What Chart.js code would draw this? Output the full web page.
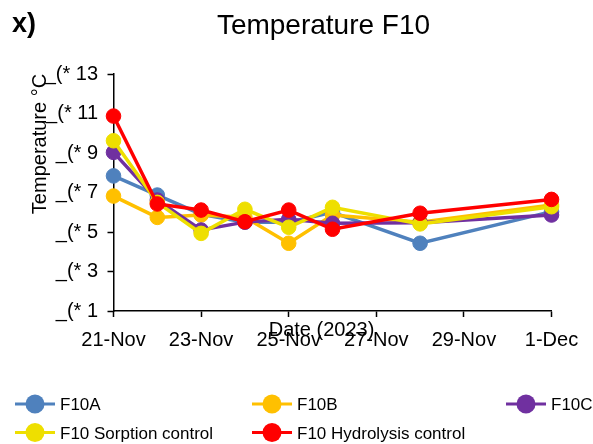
<!DOCTYPE html>
<html>
<head>
<meta charset="utf-8">
<script src="https://cdn.jsdelivr.net/npm/chart.js@4.4.1/dist/chart.umd.min.js"></script>
<style>
  html, body { margin: 0; padding: 0; background: #fff; }
  #wrap { position: relative; width: 593px; height: 444px; }
  canvas { display: block; }
</style>
</head>
<body>
<div id="wrap"><canvas id="c" width="593" height="444"></canvas></div>
<script>
// ---- data ----
const dates = ['2023-11-21','2023-11-22','2023-11-23','2023-11-24','2023-11-25','2023-11-26','2023-11-28','2023-12-01'];
const xTickLabels = ['21-Nov','23-Nov','25-Nov','27-Nov','29-Nov','1-Dec'];
const yTickValues = [1, 3, 5, 7, 9, 11, 13];
const seriesNames = ['F10A','F10B','F10C','F10 Sorption control','F10 Hydrolysis control'];
const f10A        = [7.84, 6.87, 5.90, 5.50, 5.50, 6.00, 4.43, 6.03];
const f10B        = [6.82, 5.74, 5.86, 5.75, 4.43, 5.86, 5.50, 6.37];
const f10C        = [9.03, 6.62, 5.10, 5.50, 5.64, 5.44, 5.47, 5.86];
const f10Sorption = [9.62, 6.50, 4.93, 6.15, 5.24, 6.25, 5.41, 6.28];
const f10Hydro    = [10.87, 6.42, 6.11, 5.52, 6.11, 5.14, 5.95, 6.65];
const colors = ['#4F81BD','#FFC000','#7030A0','#EEDF00','#FF0000'];

const FONT = "'Liberation Sans', Arial, sans-serif";
const day0 = Date.UTC(2023, 10, 21);
function dayOffset(s) {
  const p = s.split('-').map(Number);
  return Math.round((Date.UTC(p[0], p[1]-1, p[2]) - day0) / 86400000);
}
const xs = dates.map(dayOffset);
const allSeries = [f10A, f10B, f10C, f10Sorption, f10Hydro];

const datasets = allSeries.map((vals, i) => ({
  label: seriesNames[i],
  data: vals.map((v, j) => ({ x: xs[j], y: v })),
  order: allSeries.length - 1 - i,
  borderColor: colors[i],
  backgroundColor: colors[i],
  pointBackgroundColor: colors[i],
  pointBorderColor: colors[i],
  borderWidth: 3.5,
  pointRadius: 7.3,
  pointBorderWidth: 1,
  tension: 0,
  clip: false
}));

const textPlugin = {
  id: 'texts',
  afterDraw(chart) {
    const ctx = chart.ctx;
    ctx.save();
    ctx.fillStyle = '#000';
    // panel letter
    ctx.font = 'bold 27px ' + FONT;
    ctx.textAlign = 'left';
    ctx.textBaseline = 'alphabetic';
    ctx.fillText('x)', 12, 32);
    // title
    ctx.font = '28px ' + FONT;
    ctx.textAlign = 'center';
    ctx.fillText('Temperature F10', 323.5, 33.5);
    // x axis title
    ctx.font = '20px ' + FONT;
    ctx.fillText('Date (2023)', 321.5, 335.5);
    // y axis title
    ctx.save();
    ctx.translate(46, 144);
    ctx.rotate(-Math.PI / 2);
    ctx.textAlign = 'center';
    ctx.fillText('Temperature \u00B0C', 0, 0);
    ctx.restore();
    // legend
    const cols = [15, 252, 506];
    const rows = [404, 432.5];
    const pos = [[0,0],[1,0],[2,0],[0,1],[1,1]];
    ctx.font = '17px ' + FONT;
    ctx.textAlign = 'left';
    ctx.textBaseline = 'alphabetic';
    seriesNames.forEach((name, i) => {
      const x = cols[pos[i][0]], y = rows[pos[i][1]];
      ctx.strokeStyle = colors[i];
      ctx.lineWidth = 3;
      ctx.beginPath(); ctx.moveTo(x, y); ctx.lineTo(x + 40, y); ctx.stroke();
      ctx.fillStyle = colors[i];
      ctx.beginPath(); ctx.arc(x + 20, y, 9.5, 0, Math.PI * 2); ctx.fill();
      ctx.fillStyle = '#000';
      ctx.fillText(name, x + 45, y + 6);
    });
    ctx.restore();
  }
};

new Chart(document.getElementById('c'), {
  type: 'line',
  data: { datasets },
  options: {
    responsive: false,
    animation: false,
    layout: { padding: { left: 0, right: 41.5, top: 74, bottom: 93 } },
    plugins: { legend: { display: false }, tooltip: { enabled: false }, title: { display: false } },
    scales: {
      x: {
        type: 'linear',
        min: 0, max: 10,
        afterFit(s) { s.height = 40; },
        afterBuildTicks(s) { s.ticks = xTickLabels.map((_, i) => ({ value: i * 2 })); },
        ticks: {
          autoSkip: false,
          maxRotation: 0,
          padding: 11,
          color: '#000',
          font: { family: FONT, size: 20 },
          callback: (v) => xTickLabels[Math.round(v / 2)]
        },
        grid: { drawOnChartArea: false, drawTicks: true, tickLength: 6, tickColor: '#000', tickWidth: 1.5 },
        border: { display: true, color: '#000', width: 1.5 }
      },
      y: {
        type: 'linear',
        min: 1, max: 13,
        afterFit(s) { s.width = 113.5; },
        afterBuildTicks(s) { s.ticks = yTickValues.map(v => ({ value: v })); },
        ticks: {
          padding: 9.5,
          color: '#000',
          font: { family: FONT, size: 20 },
          callback: (v) => '_(* ' + v
        },
        grid: { drawOnChartArea: false, drawTicks: true, tickLength: 6, tickColor: '#000', tickWidth: 1.5 },
        border: { display: true, color: '#000', width: 1.5 }
      }
    }
  },
  plugins: [textPlugin]
});
</script>
</body>
</html>
